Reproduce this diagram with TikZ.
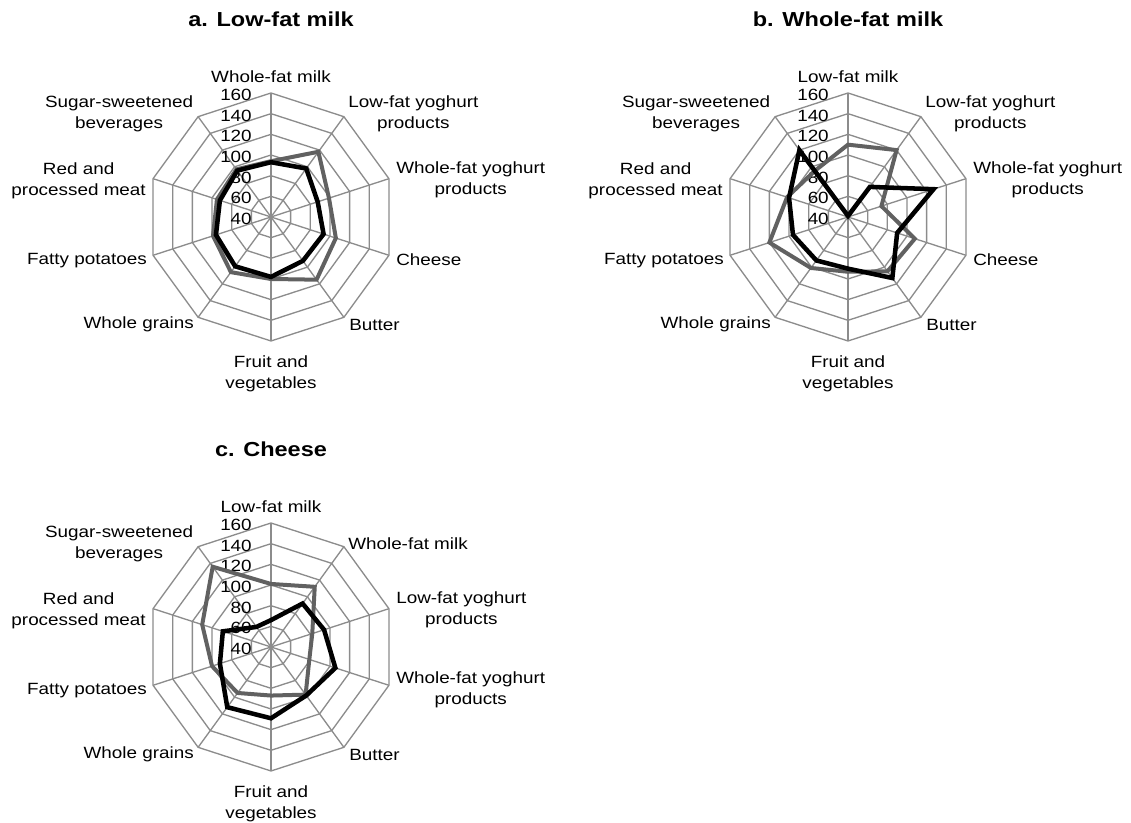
\documentclass[tikz,border=0pt]{standalone}
\usepackage{fontspec}
\setmainfont{Liberation Sans}
\newfontfamily\chartfont[FakeStretch=1.16]{Liberation Sans}

\newcommand{\lblsize}{\chartfont\fontsize{12.2}{15.75}\selectfont}
\tikzset{
  gridline/.style={draw=black!45,line width=1pt},
  ticklbl/.style={anchor=base east,inner sep=0pt,font=\lblsize},
  axislbl/.style={inner sep=0pt,align=center,font=\lblsize},
  charttitle/.style={anchor=base,inner sep=0pt,font=\chartfont\fontsize{15.2}{18}\selectfont\bfseries},
  greyseries/.style={draw=black!62,line width=3pt},
  blackseries/.style={draw=black,line width=3.4pt},
}

% rings 40..160, ten spokes, numbers on the top spoke
\newcommand{\radargrid}[1]{%
  \foreach \k in {1,...,6}{
    \draw[gridline] (90:{20.667*\k}) \foreach \i in {1,...,9}{ -- ({90-36*\i}:{20.667*\k}) } -- cycle;
  }
  \foreach \i in {0,...,9}{
    \draw[gridline] (0,0) -- ({90-36*\i}:124);
  }
  \foreach \t in {40,60,...,160}{
    \node[ticklbl] (#1-tick\t) at (-19,{(\t-40)*1.0333-7.5}) {\t};
  }
}

% #2 = value on the top spoke, #3 = the nine others, clockwise
\newcommand{\radarline}[3]{%
  \draw[#1] (90:{(#2-40)*1.0333}) \foreach \v [count=\i] in {#3}{ -- ({90-36*\i}:{(\v-40)*1.0333}) } -- cycle;
}

% label of spoke #2 (0 = top, clockwise)
\newcommand{\axislabel}[3]{%
  \ifcase#2\relax
    \node[axislbl,anchor=base] (#1) at (0,134) {#3};
  \or \node[axislbl,anchor=west] (#1) at (77,103) {#3};
  \or \node[axislbl,anchor=west] (#1) at (125,37) {#3};
  \or \node[axislbl,anchor=west] (#1) at (125,-42.3) {#3};
  \or \node[axislbl,anchor=west] (#1) at (78,-108.3) {#3};
  \or \node[axislbl,anchor=center] (#1) at (0,-156.7) {#3};
  \or \node[axislbl,anchor=east] (#1) at (-77,-107) {#3};
  \or \node[axislbl,anchor=east] (#1) at (-124,-44) {#3};
  \or \node[axislbl,anchor=east] (#1) at (-125,36.5) {#3};
  \or \node[axislbl,anchor=east] (#1) at (-77.7,102.7) {#3};
  \fi
}

\begin{document}
\begin{tikzpicture}[x=0.75pt,y=0.75pt,line join=miter]
\useasboundingbox (0,0) rectangle (1131,823);

% a. Low-fat milk
\begin{scope}[shift={(271,606)}]
  \radargrid{a}
  \node[charttitle] (a-title) at (0,190) {a. Low-fat milk};
  \axislabel{a-wfmilk}{0}{Whole-fat milk}
  \axislabel{a-lfyog}{1}{Low-fat yoghurt\\products}
  \axislabel{a-wfyog}{2}{Whole-fat yoghurt\\products}
  \axislabel{a-cheese}{3}{Cheese}
  \axislabel{a-butter}{4}{Butter}
  \axislabel{a-fruit}{5}{Fruit and\\vegetables}
  \axislabel{a-grains}{6}{Whole grains}
  \axislabel{a-potato}{7}{Fatty potatoes}
  \axislabel{a-meat}{8}{Red and\\processed meat}
  \axislabel{a-sugar}{9}{Sugar-sweetened\\beverages}
  \radarline{greyseries}{94}{118,99,106,115,100,106,99,95,97}
  \radarline{blackseries}{93}{98,87.5,93.5,92.5,98,99,96,92,95.5}
\end{scope}

% b. Whole-fat milk
\begin{scope}[shift={(848,606)}]
  \radargrid{b}
  \node[charttitle] (b-title) at (0,190) {b. Whole-fat milk};
  \axislabel{b-lfmilk}{0}{Low-fat milk}
  \axislabel{b-lfyog}{1}{Low-fat yoghurt\\products}
  \axislabel{b-wfyog}{2}{Whole-fat yoghurt\\products}
  \axislabel{b-cheese}{3}{Cheese}
  \axislabel{b-butter}{4}{Butter}
  \axislabel{b-fruit}{5}{Fruit and\\vegetables}
  \axislabel{b-grains}{6}{Whole grains}
  \axislabel{b-potato}{7}{Fatty potatoes}
  \axislabel{b-meat}{8}{Red and\\processed meat}
  \axislabel{b-sugar}{9}{Sugar-sweetened\\beverages}
  \radarline{greyseries}{110}{120,74,108,105,93,101,120,102,95}
  \radarline{blackseries}{41}{76,127,90,113,90,92,96,100,120}
\end{scope}

% c. Cheese
\begin{scope}[shift={(271,176)}]
  \radargrid{c}
  \node[charttitle] (c-title) at (0,190) {c. Cheese};
  \axislabel{c-lfmilk}{0}{Low-fat milk}
  \axislabel{c-wfmilk}{1}{Whole-fat milk}
  \axislabel{c-lfyog}{2}{Low-fat yoghurt\\products}
  \axislabel{c-wfyog}{3}{Whole-fat yoghurt\\products}
  \axislabel{c-butter}{4}{Butter}
  \axislabel{c-fruit}{5}{Fruit and\\vegetables}
  \axislabel{c-grains}{6}{Whole grains}
  \axislabel{c-potato}{7}{Fatty potatoes}
  \axislabel{c-meat}{8}{Red and\\processed meat}
  \axislabel{c-sugar}{9}{Sugar-sweetened\\beverages}
  \radarline{greyseries}{101}{112,82,79,97,87,95,100,110,136}
  \radarline{blackseries}{66}{92,94,105.5,98,109,112,92,89,64}
\end{scope}
\end{tikzpicture}
\end{document}
